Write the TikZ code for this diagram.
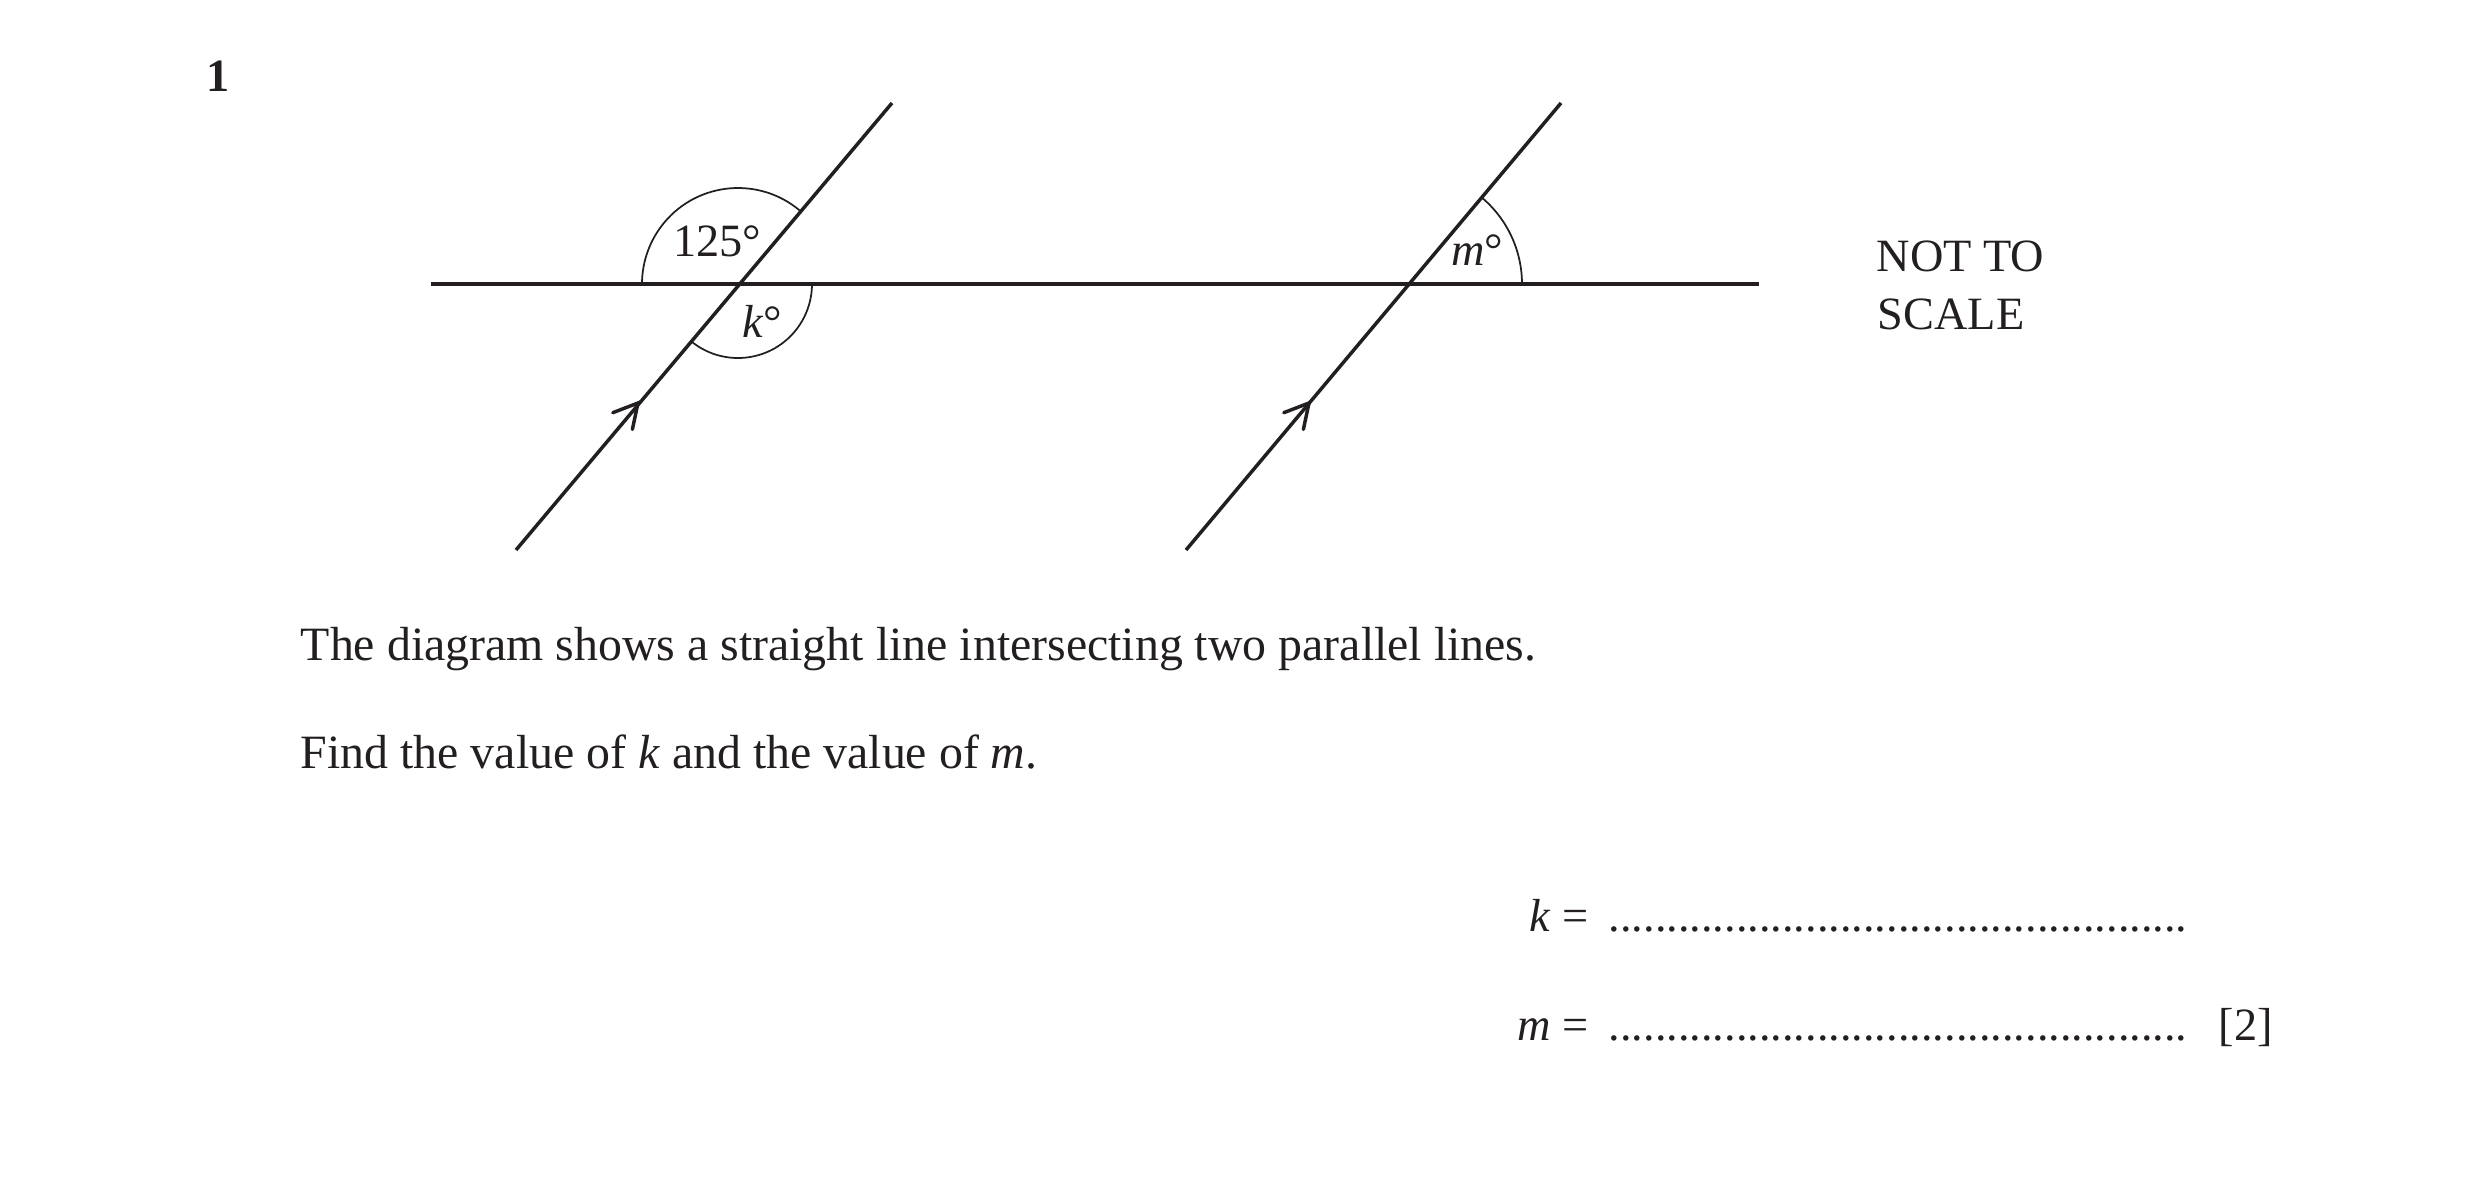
\documentclass[tikz,border=0pt]{standalone}
\usepackage{fontspec}
\setmainfont{Liberation Serif}
\definecolor{ink}{RGB}{35,31,32}
\begin{document}
\begin{tikzpicture}[x=0.2592pt,y=0.2592pt,
  thickline/.style={draw=ink,line width=0.9pt},
  thinarc/.style={draw=ink,line width=0.45pt},
  barb/.style={draw=ink,line width=0.9pt,line cap=round,line join=miter},
  txt/.style={text=ink,inner sep=0pt,font=\fontsize{12}{14.4}\selectfont},
  qtxt/.style={txt,font=\fontsize{12.4}{14.9}\selectfont}]
\useasboundingbox (0,0) rectangle (2481,-1195);
% key points
\coordinate (hl) at (431,-284);
\coordinate (hr) at (1759,-284);
\coordinate (p1) at (738,-284);
\coordinate (p2) at (1409,-284);
\coordinate (a1) at (516,-550);
\coordinate (b1) at (892,-103);
\coordinate (a2) at (1186,-550);
\coordinate (b2) at (1561,-103);
\coordinate (t1) at (638,-403);
\coordinate (t2) at (1309,-403);
% lines
\draw[thickline] (hl) -- (hr);
\draw[thickline] (a1) -- (b1);
\draw[thickline] (a2) -- (b2);
% parallel arrows
\draw[barb] (t1) ++(201:27) -- (t1) -- ++(258:27);
\draw[barb] (t2) ++(201:27) -- (t2) -- ++(258:27);
% angle arcs
\draw[thinarc] (p1) ++(50:96) arc[start angle=50,end angle=180,radius=96];
\draw[thinarc] (p1) ++(230:74) arc[start angle=230,end angle=360,radius=74];
\draw[thinarc] (p2) ++(0:113) arc[start angle=0,end angle=50,radius=113];
% angle labels
\node[txt,anchor=base] (l125) at (717,-256) {125°};
\node[txt,anchor=base] (lk) at (762,-337) {\textit{k}°};
\node[txt,anchor=base] (lm) at (1477,-265) {\textit{m}°};
% question number and note
\node[txt,anchor=base west] (qn) at (206,-91) {\textbf{1}};
\node[txt,anchor=base west] (nts1) at (1876,-271) {NOT TO};
\node[txt,anchor=base west] (nts2) at (1877,-329) {SCALE};
% question text
\node[qtxt,anchor=base west] (q1) at (300,-660) {The diagram shows a straight line intersecting two parallel lines.};
\node[qtxt,anchor=base west] (q2) at (300,-768) {Find the value of \textit{k} and the value of \textit{m}.};
% answer lines
\node[txt,anchor=base east] (ka) at (1589,-931) {\textit{k} =};
\node[txt,anchor=base west] (kd) at (1608,-931) {..................................................};
\node[txt,anchor=base east] (ma) at (1589,-1040) {\textit{m} =};
\node[txt,anchor=base west] (md) at (1608,-1040) {..................................................};
\node[txt,anchor=base west] (mk) at (2218,-1040) {[2]};
\end{tikzpicture}
\end{document}
